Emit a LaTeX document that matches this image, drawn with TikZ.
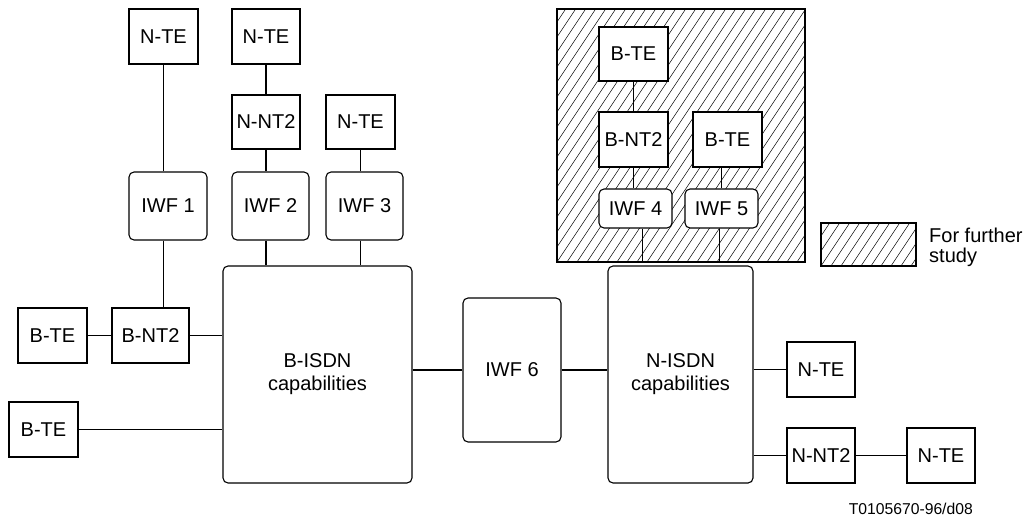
\documentclass[tikz,border=0pt]{standalone}
\usepackage{fontspec}
\setmainfont{Liberation Sans}
\newcommand\mainfs{\fontsize{20}{25}\selectfont}
\newcommand\legfs{\fontsize{20}{20}\selectfont}
\newcommand\smallfs{\fontsize{15.7}{19}\selectfont}
\tikzset{
  box/.style={draw, line width=1.1pt, fill=white, inner sep=0pt, font=\mainfs, align=center},
  rbox/.style={box, rounded corners=5pt},
  conn/.style={line width=1.1pt},
  hatched/.style={draw, line width=1.1pt, inner sep=0pt, path picture={
      \foreach \k in {-32,...,32}
        \draw[line width=0.5pt] ([xshift=\k*10pt]path picture bounding box.south west) -- ++(200pt,300pt);
  }},
}
\begin{document}
\begin{tikzpicture}[x=1pt,y=-1pt]
\useasboundingbox (0,0) rectangle (1029,517);
% hatched regions
\node[hatched, minimum width=248, minimum height=253] (hatch) at (681,135.5) {};
\node[hatched, minimum width=95, minimum height=43] (legend) at (868.5,244.5) {};
\node[anchor=west, font=\legfs, align=left, inner sep=0pt] (legtext) at (929,247.8) {For further\\study};
% top-left group
\node[box, minimum width=69, minimum height=55] (nte1) at (163.5,36.5) {N-TE};
\node[box, minimum width=68, minimum height=55] (nte2) at (266,36.5) {N-TE};
\node[box, minimum width=68, minimum height=54] (nnt2a) at (266,122) {N-NT2};
\node[box, minimum width=69, minimum height=54] (nte3) at (360.5,122) {N-TE};
\node[rbox, minimum width=78, minimum height=68] (iwf1) at (168,206) {IWF 1};
\node[rbox, minimum width=77, minimum height=68] (iwf2) at (270.5,206) {IWF 2};
\node[rbox, minimum width=77, minimum height=68] (iwf3) at (364.5,206) {IWF 3};
% B side
\node[rbox, minimum width=189, minimum height=217] (bisdn) at (317.5,374.5) {B-ISDN\\[-2pt]capabilities};
\node[box, minimum width=69, minimum height=55] (bte1) at (52.5,335.5) {B-TE};
\node[box, minimum width=77, minimum height=55] (bnt2a) at (150.5,335.5) {B-NT2};
\node[box, minimum width=69, minimum height=55] (bte2) at (43.5,429.5) {B-TE};
% middle
\node[rbox, minimum width=98, minimum height=144] (iwf6) at (512,370) {IWF 6};
% N side
\node[rbox, minimum width=145, minimum height=217] (nisdn) at (680.5,374.5) {N-ISDN\\[-2pt]capabilities};
\node[box, minimum width=68, minimum height=55] (nte4) at (821,369.5) {N-TE};
\node[box, minimum width=68, minimum height=55] (nnt2b) at (821,455.5) {N-NT2};
\node[box, minimum width=68, minimum height=55] (nte5) at (941,455.5) {N-TE};
% inside hatched area
\node[box, minimum width=69, minimum height=54] (bte3) at (633.5,54) {B-TE};
\node[box, minimum width=69, minimum height=55] (bnt2b) at (633.5,139.5) {B-NT2};
\node[box, minimum width=69, minimum height=55] (bte4) at (727.5,139.5) {B-TE};
\node[rbox, minimum width=73, minimum height=39] (iwf4) at (635.5,208.5) {IWF 4};
\node[rbox, minimum width=73, minimum height=39] (iwf5) at (721.5,208.5) {IWF 5};
% figure code
\node[anchor=east, font=\smallfs, inner sep=0pt] (code) at (973,509) {T0105670-96/d08};
% connectors
\draw[conn] (nte1.south) -- (nte1.south |- iwf1.north);
\draw[conn] (nte1.south |- iwf1.south) -- (nte1.south |- bnt2a.north);
\draw[conn] (nte2) -- (nnt2a);
\draw[conn] (nnt2a.south) -- (nnt2a.south |- iwf2.north);
\draw[conn] (nnt2a.south |- iwf2.south) -- (nnt2a.south |- bisdn.north);
\draw[conn] (nte3.south) -- (nte3.south |- iwf3.north);
\draw[conn] (nte3.south |- iwf3.south) -- (nte3.south |- bisdn.north);
\draw[conn] (bte1) -- (bnt2a);
\draw[conn] (bnt2a.east) -- (bnt2a.east -| bisdn.west);
\draw[conn] (bte2.east) -- (bte2.east -| bisdn.west);
\draw[conn] (iwf6.west -| bisdn.east) -- (iwf6.west);
\draw[conn] (iwf6.east) -- (iwf6.east -| nisdn.west);
\draw[conn] (nte4.west -| nisdn.east) -- (nte4.west);
\draw[conn] (nnt2b.west -| nisdn.east) -- (nnt2b.west);
\draw[conn] (nnt2b) -- (nte5);
\draw[conn, line width=0.8pt] (bte3) -- (bnt2b);
\draw[conn, line width=0.8pt] (bnt2b.south) -- (bnt2b.south |- iwf4.north);
\draw[conn, line width=0.8pt] (bte4.south -| iwf5.north) -- (iwf5.north);
\draw[conn, line width=0.8pt] ([xshift=6.5pt]iwf4.south) -- ([xshift=6.5pt]iwf4.south |- hatch.south);
\draw[conn, line width=0.8pt] ([xshift=-2.5pt]iwf5.south) -- ([xshift=-2.5pt]iwf5.south |- hatch.south);
\end{tikzpicture}
\end{document}
